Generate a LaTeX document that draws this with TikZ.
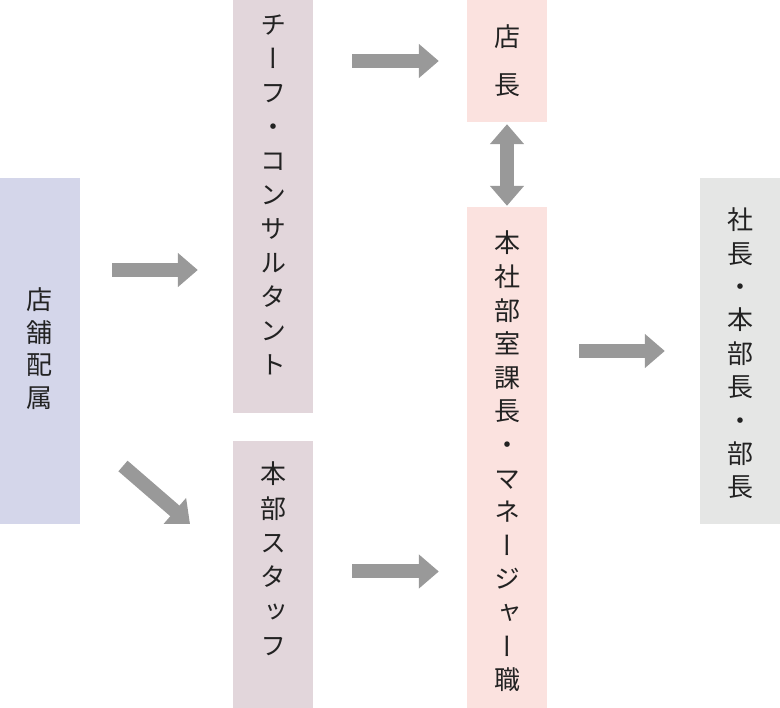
\documentclass[tikz,border=0pt]{standalone}
\usepackage{fontspec}
\newfontfamily\jp[RawFeature=+vert]{Noto Sans CJK JP}
\usetikzlibrary{arrows.meta}
\definecolor{cLav}{HTML}{D4D6EA}
\definecolor{cMauve}{HTML}{E2D6DB}
\definecolor{cPink}{HTML}{FBE2DF}
\definecolor{cGrey}{HTML}{E5E6E5}
\definecolor{cArrow}{HTML}{999999}
\definecolor{cText}{HTML}{222222}
\tikzset{
  vbox/.style={rectangle, draw=none, inner sep=0pt, minimum width=80pt},
  vtext/.style={inner sep=0pt, align=center, text=cText},
  vsize/.style={font=\jp\fontsize{26}{#1}\selectfont},
  bigarrow/.style={draw=cArrow, line width=14pt,
    -{Triangle[width=33pt, length=20pt, fill=cArrow]}},
  dblarrow/.style={draw=cArrow, line width=14pt,
    {Triangle[width=33pt, length=20pt, fill=cArrow]}-{Triangle[width=33pt, length=20pt, fill=cArrow]}},
}
\begin{document}
\begin{tikzpicture}[x=1pt, y=-1pt]
\useasboundingbox[fill=white] (0,0) rectangle (780,708);

\node[vbox, fill=cLav, minimum height=346pt,
  label={[vtext, vsize=32.5, yshift=2.5pt]center:{店\\舗\\配\\属}}] (tenpo) at (40,351) {};
\node[vbox, fill=cMauve, minimum height=413pt,
  label={[vtext, vsize=34, yshift=11.5pt]center:{チ\\ー\\フ\\・\\コ\\ン\\サ\\ル\\タ\\ン\\ト}}] (chief) at (273,206.5) {};
\node[vbox, fill=cMauve, minimum height=267pt,
  label={[vtext, vsize=34.4, yshift=15.5pt]center:{本\\部\\ス\\タ\\ッ\\フ}}] (staff) at (273,574.5) {};
\node[vbox, fill=cPink, minimum height=122pt,
  label={[vtext, vsize=48]center:{店\\長}}] (tencho) at (507,61) {};
\node[vbox, fill=cPink, minimum height=501pt,
  label={[vtext, vsize=33.6, yshift=-4pt]center:{本\\社\\部\\室\\課\\長\\・\\マ\\ネ\\ー\\ジ\\ャ\\ー\\職}}] (honsha) at (507,457.5) {};
\node[vbox, fill=cGrey, minimum height=346pt,
  label={[vtext, vsize=33.4, yshift=-2.5pt]center:{社\\長\\・\\本\\部\\長\\・\\部\\長}}] (shacho) at (740,351) {};

% arrows
\coordinate (a1s) at ([yshift=81pt]tenpo.east);
\draw[bigarrow, shorten <=32pt, shorten >=35pt] (a1s) -- (a1s -| chief.west);

\coordinate (a2s) at (123,466);
\coordinate (a2e) at (190,524);
\draw[bigarrow] (a2s) -- (a2e);

\draw[bigarrow, shorten <=39pt, shorten >=28pt] (chief.east |- tencho) -- (tencho.west);
\draw[bigarrow, shorten <=39pt, shorten >=28pt] ([yshift=3pt]staff.east) -- ([yshift=3pt]staff.east -| honsha.west);
\draw[bigarrow, shorten <=32pt, shorten >=35pt] (shacho.west -| honsha.east) -- (shacho.west);
\draw[dblarrow, shorten <=2pt, shorten >=1pt] (tencho.south) -- (honsha.north);
\end{tikzpicture}
\end{document}
